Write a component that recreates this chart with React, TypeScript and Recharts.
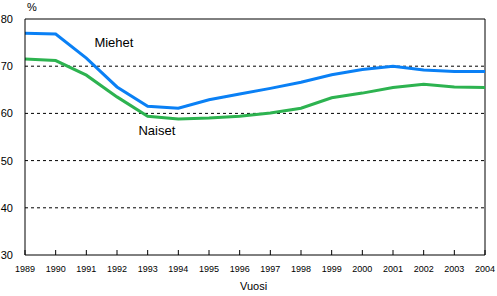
import { LineChart, Line, XAxis, YAxis, ReferenceLine, ReferenceDot } from 'recharts';

const years = [1989, 1990, 1991, 1992, 1993, 1994, 1995, 1996, 1997, 1998, 1999, 2000, 2001, 2002, 2003, 2004];
const miehet = [77.0, 76.8, 71.7, 65.6, 61.5, 61.1, 62.9, 64.1, 65.3, 66.6, 68.2, 69.3, 70.0, 69.2, 68.9, 68.9];
const naiset = [71.5, 71.2, 68.1, 63.5, 59.4, 58.8, 59.0, 59.4, 60.1, 61.1, 63.3, 64.3, 65.5, 66.2, 65.6, 65.5];
const yTicks = [30, 40, 50, 60, 70, 80];
const gridValues = [40, 50, 60, 70];

const data = years.map((year, i) => ({ year, miehet: miehet[i], naiset: naiset[i] }));

const FONT = 'Arial, "Liberation Sans", sans-serif';

function YearTick(props: any) {
  const { x, y, payload } = props;
  return (
    <g>
      <line x1={x} x2={x} y1={y} y2={y - 5} stroke="#000" />
      <text x={x} y={y + 17} textAnchor="middle" fontSize={9} fontFamily={FONT} fill="#000">
        {payload.value}
      </text>
    </g>
  );
}

export default function App() {
  return (
    <div style={{ position: 'absolute', left: 0, top: 0, width: 497, height: 296, background: '#fff' }}>
      <LineChart width={497} height={296} data={data} margin={{ top: 19, right: 12, bottom: 11, left: 0 }}>
        <XAxis
          dataKey="year"
          type="number"
          domain={[1989, 2004]}
          ticks={years}
          interval={0}
          height={30}
          tickSize={0}
          tickMargin={0}
          tickLine={false}
          axisLine={{ stroke: '#000' }}
          tick={<YearTick />}
        />
        <YAxis
          width={25}
          domain={[30, 80]}
          ticks={yTicks}
          interval={0}
          tickLine={false}
          tickMargin={6}
          axisLine={{ stroke: '#000' }}
          tick={{ fontSize: 11, fontFamily: FONT, fill: '#000' }}
        />
        {gridValues.map(v => (
          <ReferenceLine key={v} y={v} stroke="#000" strokeDasharray="3 3" />
        ))}
        <ReferenceLine y={80} stroke="#000" />
        <ReferenceLine x={2004} stroke="#000" />
        <Line type="linear" dataKey="naiset" stroke="#2db350" strokeWidth={3} dot={false} isAnimationActive={false} />
        <Line type="linear" dataKey="miehet" stroke="#0a80f5" strokeWidth={3} dot={false} isAnimationActive={false} />
        <ReferenceDot
          x={1991.9}
          y={75.1}
          r={0}
          label={{ value: 'Miehet', fontSize: 13, fontFamily: FONT, fill: '#000', position: 'center' }}
        />
        <ReferenceDot
          x={1993.3}
          y={56.4}
          r={0}
          label={{ value: 'Naiset', fontSize: 13, fontFamily: FONT, fill: '#000', position: 'center' }}
        />
      </LineChart>
      <div style={{ position: 'absolute', left: 27, top: 1, fontSize: 11, fontFamily: FONT }}>%</div>
      <div style={{ position: 'absolute', left: 240, top: 280, fontSize: 11, fontFamily: FONT }}>Vuosi</div>
    </div>
  );
}
